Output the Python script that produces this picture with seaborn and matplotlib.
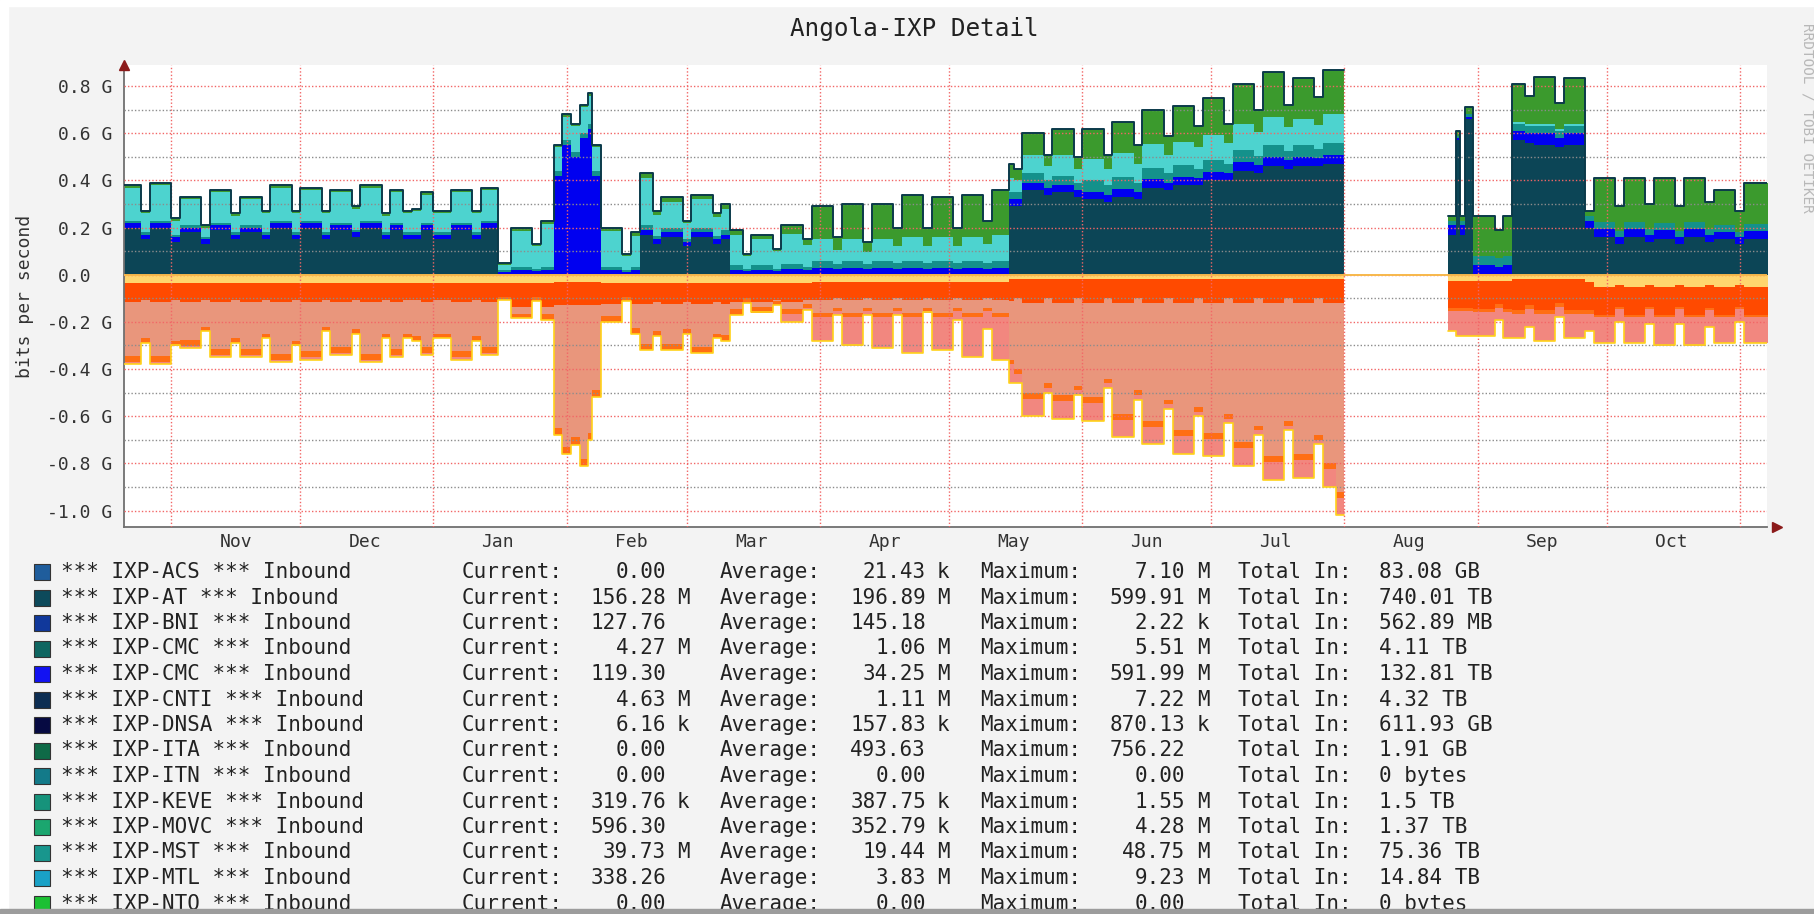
import numpy as np
import pandas as pd
import matplotlib
matplotlib.use("Agg")
import matplotlib.pyplot as plt
import matplotlib.dates as mdates
from matplotlib.patches import Rectangle
from matplotlib.ticker import MultipleLocator, FuncFormatter, NullFormatter
import seaborn as sns

sns.set_style("white")
plt.rcParams['font.family'] = ['DejaVu Sans Mono']

W, H = 1814, 914

# step start dates (Mon = weekday block, Sat = weekend block, plus a few events)
dates = [
    "2014-10-20", "2014-10-25", "2014-10-27", "2014-11-01", "2014-11-03", "2014-11-08", "2014-11-10", "2014-11-15", "2014-11-17", "2014-11-22",
    "2014-11-24", "2014-11-29", "2014-12-01", "2014-12-06", "2014-12-08", "2014-12-13", "2014-12-15", "2014-12-20", "2014-12-22", "2014-12-25",
    "2014-12-27", "2014-12-29", "2015-01-01", "2015-01-03", "2015-01-05", "2015-01-10", "2015-01-12", "2015-01-16", "2015-01-19", "2015-01-24",
    "2015-01-26", "2015-01-29", "2015-01-31", "2015-02-02", "2015-02-04", "2015-02-06", "2015-02-07", "2015-02-09", "2015-02-14", "2015-02-16",
    "2015-02-18", "2015-02-21", "2015-02-23", "2015-02-28", "2015-03-02", "2015-03-07", "2015-03-09", "2015-03-11", "2015-03-14", "2015-03-16",
    "2015-03-21", "2015-03-23", "2015-03-28", "2015-03-30", "2015-04-04", "2015-04-06", "2015-04-11", "2015-04-13", "2015-04-18", "2015-04-20",
    "2015-04-25", "2015-04-27", "2015-05-02", "2015-05-04", "2015-05-09", "2015-05-11", "2015-05-15", "2015-05-16", "2015-05-18", "2015-05-23",
    "2015-05-25", "2015-05-30", "2015-06-01", "2015-06-06", "2015-06-08", "2015-06-13", "2015-06-15", "2015-06-20", "2015-06-22", "2015-06-27",
    "2015-06-29", "2015-07-04", "2015-07-06", "2015-07-11", "2015-07-13", "2015-07-18", "2015-07-20", "2015-07-25", "2015-07-27", "2015-07-30",
    "2015-08-01", "2015-08-25", "2015-08-27", "2015-08-28", "2015-08-29", "2015-08-31", "2015-09-05", "2015-09-07", "2015-09-09", "2015-09-12",
    "2015-09-14", "2015-09-19", "2015-09-21", "2015-09-26", "2015-09-28", "2015-10-03", "2015-10-05", "2015-10-10", "2015-10-12", "2015-10-17",
    "2015-10-19", "2015-10-24", "2015-10-26", "2015-10-31", "2015-11-02",
]
end_date = "2015-11-08"

# inbound layers (G bit/s), stacked upwards
ixp_at = [
    .20, .15, .20, .14, .18, .13, .19, .15, .18, .15,
    .20, .15, .20, .15, .19, .16, .20, .15, .19, .15,
    .15, .19, .15, .15, .19, .15, .20, 0, 0, 0,
    0, 0, 0, 0, 0, 0, 0, 0, 0, 0,
    .17, .13, .16, .12, .16, .13, .15, 0, 0, 0,
    0, 0, 0, 0, 0, 0, 0, 0, 0, 0,
    0, 0, 0, 0, 0, 0, .29, .29, .36, .34,
    .35, .33, .32, .31, .33, .32, .37, .36, .38, .38,
    .40, .40, .44, .43, .46, .45, .46, .46, .47, .47,
    0, .17, .57, .17, .66, 0, 0, 0, .57, .56,
    .55, .54, .55, .20, .16, .13, .16, .14, .15, .13,
    .16, .14, .15, .13, .15]
ixp_blue = [
    .02, .02, .02, .02, .02, .02, .02, .02, .02, .02,
    .02, .02, .02, .02, .02, .02, .02, .02, .02, .02,
    .02, .02, .02, .02, .02, .02, .02, .01, .02, .015,
    .02, .42, .55, .50, .58, .62, .42, .02, .01, .02,
    .02, .02, .02, .02, .02, .02, .02, .02, .015, .02,
    .015, .025, .02, .03, .025, .03, .025, .03, .025, .03,
    .025, .03, .025, .03, .025, .03, .03, .03, .03, .03,
    .03, .03, .03, .03, .035, .03, .035, .03, .035, .03,
    .035, .03, .04, .035, .04, .035, .04, .035, .04, .04,
    0, .04, .01, .04, .01, .04, .035, .04, .04, .04,
    .05, .04, .05, .03, .035, .03, .035, .03, .04, .03,
    .035, .03, .03, .03, .035]
ixp_teal = [
    .01, .01, .01, .01, .01, .01, .01, .01, .01, .01,
    .01, .01, .01, .01, .01, .01, .01, .01, .01, .01,
    .01, .01, .01, .01, .01, .01, .01, .01, .015, .01,
    .015, .02, .02, .02, .02, .02, .02, .015, .01, .015,
    .02, .015, .02, .01, .02, .015, .02, .02, .01, .02,
    .01, .02, .015, .03, .02, .03, .02, .03, .025, .03,
    .025, .03, .025, .03, .025, .03, .03, .03, .04, .03,
    .04, .03, .05, .04, .05, .04, .05, .04, .05, .04,
    .05, .04, .05, .04, .05, .04, .05, .04, .05, .05,
    0, .02, .01, .02, .01, .04, .035, .04, .03, .03,
    .03, .03, .03, .02, .03, .025, .03, .025, .03, .025,
    .03, .025, .03, .02, .03]
ixp_turq = [
    .14, .08, .15, .06, .11, .04, .13, .07, .11, .08,
    .14, .08, .13, .08, .13, .09, .14, .07, .13, .08,
    .09, .12, .08, .08, .13, .08, .13, .02, .15, .095,
    .18, .10, .10, .11, .11, .12, .10, .15, .06, .13,
    .20, .09, .11, .07, .12, .08, .09, .13, .055, .11,
    .075, .13, .09, .09, .06, .09, .05, .09, .07, .10,
    .07, .10, .07, .10, .08, .11, .06, .05, .08, .06,
    .09, .06, .09, .07, .10, .08, .10, .08, .10, .09,
    .11, .09, .11, .10, .12, .10, .11, .10, .12, .12,
    0, 0, 0, 0, 0, 0, 0, 0, .01, .01,
    .01, .01, .01, 0, 0, 0, 0, 0, 0, 0,
    0, 0, 0, 0, 0]
ixp_green = [
    .01, .01, .01, .01, .01, .01, .01, .01, .01, .01,
    .01, .01, .01, .01, .01, .01, .01, .01, .01, .01,
    .01, .01, .01, .01, .01, .01, .01, .01, .015, .01,
    .015, .01, .01, .01, .01, .01, .01, .015, .01, .015,
    .02, .015, .02, .01, .02, .015, .02, .02, .01, .02,
    .01, .035, .025, .14, .055, .15, .045, .15, .08, .18,
    .08, .17, .08, .18, .10, .19, .06, .05, .09, .05,
    .11, .05, .13, .06, .135, .08, .145, .08, .15, .09,
    .155, .08, .17, .095, .19, .095, .175, .12, .19, .19,
    0, .02, .02, .02, .03, .17, .12, .17, .16, .12,
    .20, .11, .195, .02, .185, .105, .185, .105, .19, .105,
    .185, .115, .15, .09, .175]

# outbound layers (G bit/s), stacked downwards
out_yellow = [
    .035, .035, .035, .035, .035, .035, .035, .035, .035, .035,
    .035, .035, .035, .035, .035, .035, .035, .035, .035, .035,
    .035, .035, .035, .035, .035, .035, .035, .035, .035, .035,
    .035, .03, .03, .03, .03, .03, .03, .035, .035, .035,
    .035, .035, .035, .035, .035, .035, .035, .035, .035, .035,
    .035, .035, .035, .03, .03, .03, .03, .03, .03, .03,
    .03, .03, .03, .03, .03, .03, .02, .02, .02, .02,
    .02, .02, .02, .02, .02, .02, .02, .02, .02, .02,
    .02, .02, .02, .02, .02, .02, .02, .02, .02, .02,
    0, .025, .025, .025, .025, .025, .025, .025, .02, .02,
    .02, .02, .02, .03, .05, .045, .05, .045, .05, .045,
    .05, .045, .05, .045, .05]
out_red = [
    .08, .07, .08, .07, .08, .07, .08, .07, .08, .07,
    .08, .07, .08, .07, .08, .07, .08, .07, .08, .07,
    .07, .08, .07, .07, .08, .07, .08, .06, .10, .06,
    .10, .10, .10, .10, .10, .10, .10, .09, .06, .09,
    .09, .08, .09, .08, .09, .08, .09, .08, .065, .08,
    .07, .08, .07, .075, .07, .075, .07, .075, .07, .075,
    .07, .075, .07, .075, .07, .075, .09, .08, .10, .08,
    .10, .08, .10, .08, .10, .08, .10, .08, .10, .08,
    .10, .08, .10, .08, .10, .08, .10, .08, .10, .10,
    0, .115, .115, .115, .115, .12, .10, .12, .13, .11,
    .13, .10, .13, .12, .12, .09, .12, .09, .12, .09,
    .12, .095, .12, .09, .12]
out_salmon = [
    .23, .165, .23, .175, .16, .115, .20, .165, .20, .145,
    .22, .175, .21, .115, .19, .125, .22, .145, .20, .145,
    .155, .19, .145, .145, .21, .155, .19, 0, .03, 0,
    .03, .52, .60, .56, .65, .54, .36, .05, 0, .10,
    .17, .125, .17, .115, .18, .135, .13, .03, 0, .02,
    .005, .03, .02, .055, .04, .055, .04, .055, .04, .055,
    .04, .055, .04, .055, .04, .055, .25, .30, .38, .36,
    .39, .37, .40, .34, .47, .39, .50, .43, .54, .46,
    .55, .49, .59, .54, .65, .52, .64, .58, .68, .80,
    0, 0, 0, 0, 0, 0, 0, 0, 0, 0,
    0, 0, 0, 0, 0, 0, 0, 0, 0, 0,
    0, 0, 0, 0, 0]
out_orange = [
    .025, .02, .025, .02, .025, .02, .025, .02, .025, .02,
    .025, .02, .025, .02, .025, .02, .025, .02, .025, .02,
    .02, .025, .02, .02, .025, .02, .025, .01, .02, .015,
    .025, .03, .03, .03, .03, .03, .03, .025, .015, .025,
    .025, .02, .025, .02, .025, .02, .025, .025, .02, .025,
    .02, .02, .015, .02, .015, .02, .015, .02, .015, .02,
    .015, .02, .015, .02, .015, .02, .02, .02, .025, .02,
    .025, .02, .025, .02, .025, .02, .025, .02, .025, .02,
    .025, .02, .025, .02, .025, .02, .025, .02, .025, .025,
    0, .015, .015, .015, .015, .015, .015, .015, .015, .015,
    .015, .015, .015, .015, .01, .01, .01, .01, .01, .01,
    .01, .01, .01, .01, .01]
out_coral = [
    .01, 0, .01, 0, .01, 0, .01, 0, .01, 0,
    .01, 0, .01, 0, .01, 0, .01, 0, .01, 0,
    0, .01, 0, 0, .01, 0, .01, 0, 0, 0,
    0, 0, 0, 0, 0, 0, 0, 0, 0, 0,
    0, 0, 0, 0, 0, 0, 0, 0, 0, 0,
    0, .035, .01, .10, .015, .12, .015, .13, .015, .15,
    .005, .14, .035, .17, .075, .18, .08, .04, .075, .02,
    .075, .02, .075, .02, .075, .02, .075, .02, .075, .02,
    .075, .02, .075, .02, .075, .02, .075, .02, .075, .075,
    0, .085, .105, .105, .105, .10, .05, .11, .105, .075,
    .115, .045, .105, .075, .11, .055, .11, .065, .12, .065,
    .12, .07, .11, .055, .11]

# legend table
legend_names = ["ACS", "AT", "BNI", "CMC", "CMC", "CNTI", "DNSA", "ITA", "ITN", "KEVE", "MOVC", "MST", "MTL", "NTO"]
legend_colors = ['#1F5D9C', '#0D4A5B', '#10389B', '#0E6661', '#1212F2', '#0C2D52', '#060A42',
                 '#0F6A47', '#137A89', '#16937B', '#1BA66F', '#18968D', '#1AA1C6', '#1CC033']
cur_vals = [0.00, 156.28, 127.76, 4.27, 119.30, 4.63, 6.16, 0.00, 0.00, 319.76, 596.30, 39.73, 338.26, 0.00]
cur_units = ['', 'M', '', 'M', '', 'M', 'k', '', '', 'k', '', 'M', '', '']
avg_vals = [21.43, 196.89, 145.18, 1.06, 34.25, 1.11, 157.83, 493.63, 0.00, 387.75, 352.79, 19.44, 3.83, 0.00]
avg_units = ['k', 'M', '', 'M', 'M', 'M', 'k', '', '', 'k', 'k', 'M', 'M', '']
max_vals = [7.10, 599.91, 2.22, 5.51, 591.99, 7.22, 870.13, 756.22, 0.00, 1.55, 4.28, 48.75, 9.23, 0.00]
max_units = ['M', 'M', 'k', 'M', 'M', 'M', 'k', '', '', 'M', 'M', 'M', 'M', '']
totals = ['83.08 GB', '740.01 TB', '562.89 MB', '4.11 TB', '132.81 TB', '4.32 TB', '611.93 GB',
          '1.91 GB', '0 bytes', '1.5 TB', '1.37 TB', '75.36 TB', '14.84 TB', '0 bytes']


def fx(px):
    return px / W


def fy(py):
    return 1 - py / H


def ext(vals):
    # repeat the last value so the final step reaches the end date
    v = np.asarray(vals, dtype=float)
    return np.append(v, v[-1])


t = pd.to_datetime(dates + [end_date]).to_numpy()

fig = plt.figure(figsize=(W / 100, H / 100), dpi=100, facecolor='#F3F3F3')
ax = fig.add_axes([fx(124), fy(527), fx(1767 - 124), 462 / H])
ax.set_facecolor('white')

pos_layers = [(ixp_at, '#0C4556'), (ixp_blue, '#0000F0'), (ixp_teal, '#14918B'),
              (ixp_turq, '#4DD3CF'), (ixp_green, '#3B9A2D')]
neg_layers = [(out_yellow, '#FFD66E'), (out_red, '#FF4A00'), (out_salmon, '#E9967C'),
              (out_orange, '#FF6E14'), (out_coral, '#F2877F')]

base = np.zeros(len(t))
for vals, col in pos_layers:
    top = base + ext(vals)
    ax.fill_between(t, base, top, step='post', color=col, linewidth=0, zorder=2)
    base = top
total_in = base

base = np.zeros(len(t))
for vals, col in neg_layers:
    bot = base - ext(vals)
    ax.fill_between(t, base, bot, step='post', color=col, linewidth=0, zorder=2)
    base = bot
total_out = base

ax.plot(t, np.where(total_in > 1e-9, total_in, np.nan), drawstyle='steps-post',
        color='#0B3A4A', lw=1.4, zorder=4)
ax.plot(t, np.where(total_out < -1e-9, total_out, np.nan), drawstyle='steps-post',
        color='#FFD21A', lw=1.2, zorder=4)
ax.axhline(0, color='#F7B84B', lw=1.4, zorder=4)

ax.set_xlim(pd.Timestamp('2014-10-21'), pd.Timestamp('2015-11-07 08:00'))
ax.set_ylim(-1.07, 0.89)


def gfmt(v, pos):
    v = round(v, 1)
    if abs(v) < 1e-9:
        return "0.0  "
    return f"{v:.1f} G"


ax.yaxis.set_major_locator(MultipleLocator(0.2))
ax.yaxis.set_minor_locator(MultipleLocator(0.1))
ax.yaxis.set_major_formatter(FuncFormatter(gfmt))
ax.xaxis.set_major_locator(mdates.MonthLocator())
ax.xaxis.set_major_formatter(NullFormatter())
ax.xaxis.set_minor_locator(mdates.MonthLocator(bymonthday=16))
ax.xaxis.set_minor_formatter(mdates.DateFormatter('%b'))

ax.set_axisbelow(False)
dots = (0, (1, 1.5))
ax.yaxis.grid(True, which='major', color=(0.95, 0.4, 0.4, 0.3), linestyle=dots, lw=1.0)
ax.yaxis.grid(True, which='minor', color=(0.55, 0.55, 0.55, 0.25), linestyle=dots, lw=1.0)
ax.xaxis.grid(True, which='major', color=(0.95, 0.4, 0.4, 0.3), linestyle=dots, lw=1.0)

ax.tick_params(axis='y', which='major', length=3, color='#D08080', pad=5.5,
               labelsize=13, labelcolor='#333333')
ax.tick_params(axis='y', which='minor', length=0)
ax.tick_params(axis='x', which='major', length=4, direction='inout', color='#C09090')
ax.tick_params(axis='x', which='minor', length=0, pad=4, labelsize=13, labelcolor='#333333')

sns.despine(ax=ax, top=True, right=True)
for side in ('left', 'bottom'):
    ax.spines[side].set_color('#707070')
    ax.spines[side].set_linewidth(1.3)
ax.plot([0], [1.0], marker='^', color='#8B1A1A', markersize=7, transform=ax.transAxes,
        clip_on=False, zorder=6)
ax.plot([1.006], [0], marker='>', color='#8B1A1A', markersize=7, transform=ax.transAxes,
        clip_on=False, zorder=6)

# texts
fig.text(fx(914), fy(29), "Angola-IXP Detail", ha='center', va='center', fontsize=17.5, color='#222222')
fig.text(fx(25), fy(296), "bits per second", rotation=90, ha='center', va='center',
         fontsize=13, color='#333333')
fig.text(fx(1807), fy(118), "RRDTOOL / TOBI OETIKER", rotation=270, ha='center', va='center',
         fontsize=10.4, color='#B8B8B8')

# legend
row0, dy = 572, 25.5
fs = 15
for i, name in enumerate(legend_names):
    y = row0 + i * dy
    fig.add_artist(Rectangle((fx(34), fy(y + 8)), 16 / W, 16 / H, transform=fig.transFigure,
                             facecolor=legend_colors[i], edgecolor='#333333', lw=0.8))
    fig.text(fx(61), fy(y), f"*** IXP-{name} *** Inbound", va='center', ha='left', fontsize=fs, color='#222222')
    fig.text(fx(462), fy(y), "Current:", va='center', ha='left', fontsize=fs, color='#222222')
    fig.text(fx(666), fy(y), f"{cur_vals[i]:.2f}", va='center', ha='right', fontsize=fs, color='#222222')
    fig.text(fx(677), fy(y), cur_units[i], va='center', ha='left', fontsize=fs, color='#222222')
    fig.text(fx(720), fy(y), "Average:", va='center', ha='left', fontsize=fs, color='#222222')
    fig.text(fx(926), fy(y), f"{avg_vals[i]:.2f}", va='center', ha='right', fontsize=fs, color='#222222')
    fig.text(fx(937), fy(y), avg_units[i], va='center', ha='left', fontsize=fs, color='#222222')
    fig.text(fx(980), fy(y), "Maximum:", va='center', ha='left', fontsize=fs, color='#222222')
    fig.text(fx(1185), fy(y), f"{max_vals[i]:.2f}", va='center', ha='right', fontsize=fs, color='#222222')
    fig.text(fx(1197), fy(y), max_units[i], va='center', ha='left', fontsize=fs, color='#222222')
    fig.text(fx(1238), fy(y), "Total In:", va='center', ha='left', fontsize=fs, color='#222222')
    fig.text(fx(1379), fy(y), totals[i], va='center', ha='left', fontsize=fs, color='#222222')

# screenshot frame: white margin top/left, shadow at the bottom
fig.add_artist(Rectangle((0, fy(6)), 1, 6 / H, transform=fig.transFigure, color='white', zorder=10))
fig.add_artist(Rectangle((0, 0), 8 / W, 1, transform=fig.transFigure, color='white', zorder=10))
fig.add_artist(Rectangle((0, 0), 1, 5 / H, transform=fig.transFigure, color='#9C9C9C', zorder=10))

fig.savefig("out.png", dpi=100, facecolor=fig.get_facecolor())
